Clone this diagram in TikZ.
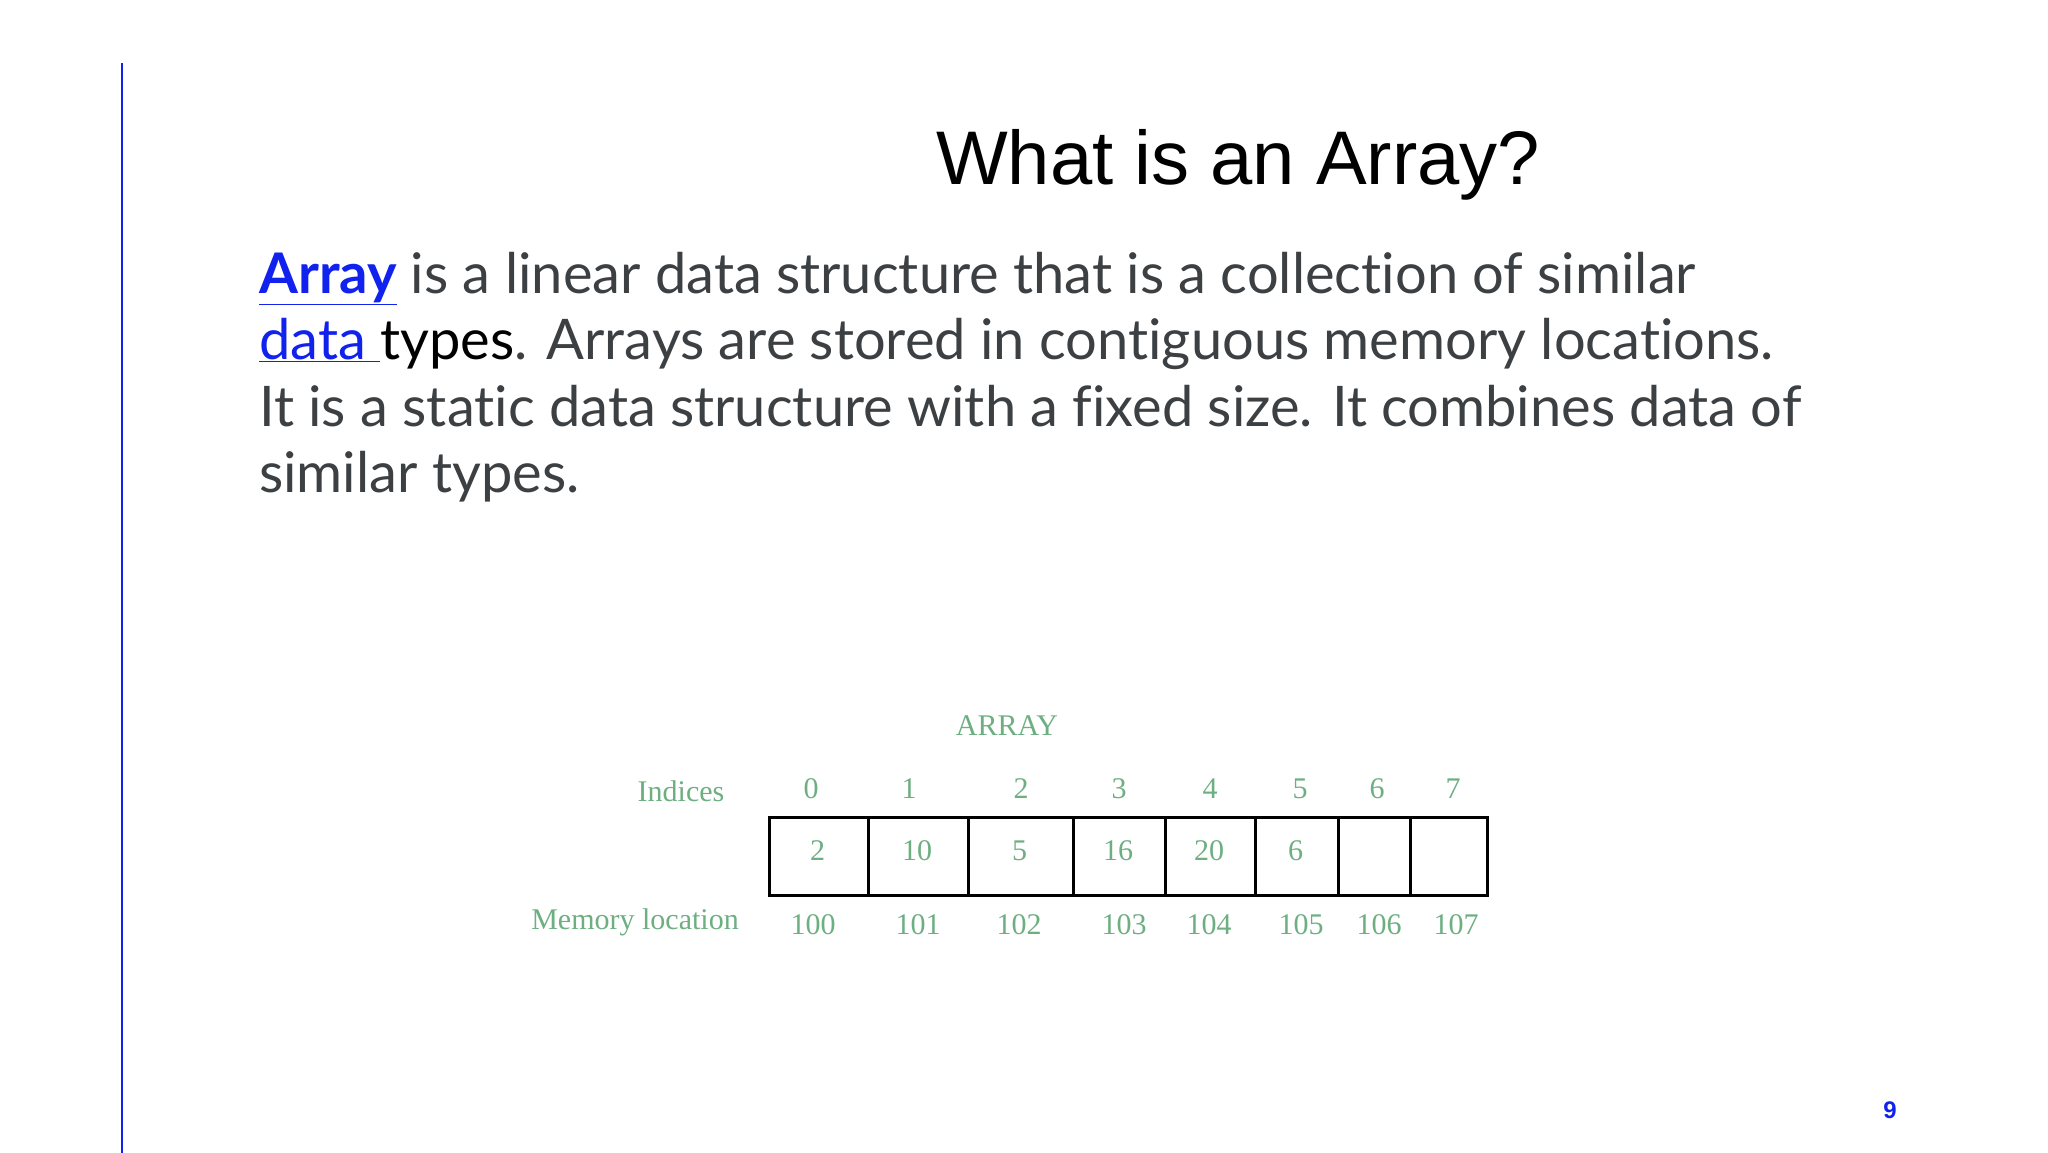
\documentclass[tikz,border=0pt]{standalone}
\usepackage{fontspec}
\setmainfont{Liberation Serif}
\newfontfamily\bodyfont[Ligatures=NoCommon]{Lato}
\newfontfamily\titlefont{Liberation Sans}
\definecolor{linkblue}{RGB}{17,34,238}
\definecolor{bodygray}{RGB}{60,64,67}
\definecolor{arrgreen}{RGB}{110,175,130}
\begin{document}
\begin{tikzpicture}[x=1pt,y=-1pt,
  lbl/.style={text=arrgreen,font=\fontsize{30}{32}\selectfont,inner sep=0pt,anchor=center},
  bodyline/.style={anchor=base west,inner sep=0pt,text=bodygray,font=\bodyfont\fontsize{56}{60}\selectfont},
  cellbox/.style={draw=black,line width=2.6pt,minimum height=78pt,inner sep=0pt,anchor=north west}]
\useasboundingbox (0,0) rectangle (2048,1152);
\fill[white] (0,0) rectangle (2048,1152);
\draw[linkblue,line width=2.5pt] (122,63) coordinate (lt) -- (122,1160) coordinate (lb);
\node (title) at (1238,165) {\titlefont\fontsize{76}{80}\selectfont What is an Array?};
\node[bodyline] (b1) at (259,293) {{\color{linkblue}\bfseries\underline{Array}} is a linear data structure that is a collection of similar};
\node[bodyline] (b2) at (259,359.5) {{\color{linkblue}\underline{data\ }}{\color{black}types}. Arrays are stored in contiguous memory locations.};
\node[bodyline] (b3) at (259,426) {It is a static data structure with a fixed size. It combines data of};
\node[bodyline] (b4) at (259,492.5) {similar types.};
\begin{scope}[shift={(-8,-10)}]
\node[lbl] (arr) at (1015,736) {ARRAY};
\node[lbl] (ind) at (689,801) {Indices};
\node[lbl] (mem) at (643,932) {Memory location};
\foreach \i/\l/\r/\v/\ix/\mx/\m in {0/776/875/2/819/821/100,1/875/975/10/917/926/101,2/975/1080/5/1029/1027/102,3/1080/1172/16/1127/1132/103,4/1172/1262/20/1218/1217/104,5/1262/1345/6/1308/1309/105,6/1345/1417/{}/1385/1387/106,7/1417/1494/{}/1461/1464/107}{
  \pgfmathsetmacro\w{\r-\l}
  \node[cellbox,minimum width=\w pt] (c\i) at (\l,826) {};
  \node[lbl] (v\i) at ({(\l+\r)/2},861) {\v};
  \node[lbl] (i\i) at (\ix,799) {\i};
  \node[lbl] (m\i) at (\mx,935) {\m};
}
\end{scope}
\node[text=linkblue,font=\titlefont\bfseries\fontsize{24}{26}\selectfont] (pg) at (1890,1110) {9};
\end{tikzpicture}
\end{document}
